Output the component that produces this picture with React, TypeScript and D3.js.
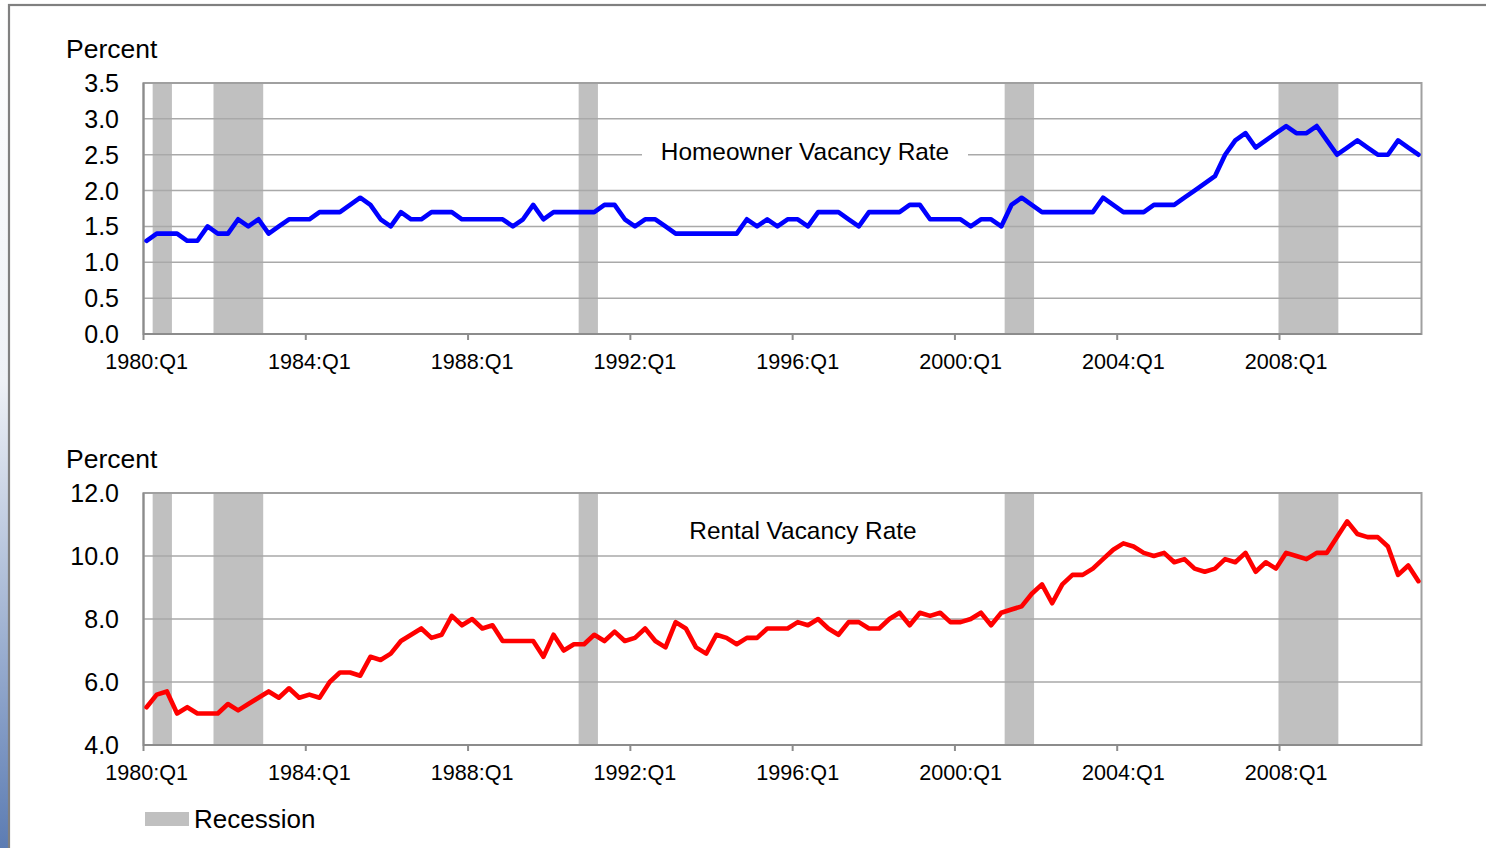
import React from "react";
import * as d3 from "d3";

// quarterly categories 1980:Q1 .. 2011:Q2
const START_YEAR = 1980;
const N_QUARTERS = 126;
const quarters = d3.range(N_QUARTERS).map(
  (i) => `${START_YEAR + Math.floor(i / 4)}:Q${(i % 4) + 1}`
);

const xTickLabels = ["1980:Q1", "1984:Q1", "1988:Q1", "1992:Q1", "1996:Q1", "2000:Q1", "2004:Q1", "2008:Q1"];

// recession quarters (first, last)
const recessions = [
  ["1980:Q2", "1980:Q3"],
  ["1981:Q4", "1982:Q4"],
  ["1990:Q4", "1991:Q1"],
  ["2001:Q2", "2001:Q4"],
  ["2008:Q1", "2009:Q2"],
];

const homeownerRate = [
  1.3, 1.4, 1.4, 1.4, 1.3, 1.3, 1.5, 1.4, 1.4, 1.6, 1.5, 1.6, 1.4, 1.5, 1.6, 1.6,
  1.6, 1.7, 1.7, 1.7, 1.8, 1.9, 1.8, 1.6, 1.5, 1.7, 1.6, 1.6, 1.7, 1.7, 1.7, 1.6,
  1.6, 1.6, 1.6, 1.6, 1.5, 1.6, 1.8, 1.6, 1.7, 1.7, 1.7, 1.7, 1.7, 1.8, 1.8, 1.6,
  1.5, 1.6, 1.6, 1.5, 1.4, 1.4, 1.4, 1.4, 1.4, 1.4, 1.4, 1.6, 1.5, 1.6, 1.5, 1.6,
  1.6, 1.5, 1.7, 1.7, 1.7, 1.6, 1.5, 1.7, 1.7, 1.7, 1.7, 1.8, 1.8, 1.6, 1.6, 1.6,
  1.6, 1.5, 1.6, 1.6, 1.5, 1.8, 1.9, 1.8, 1.7, 1.7, 1.7, 1.7, 1.7, 1.7, 1.9, 1.8,
  1.7, 1.7, 1.7, 1.8, 1.8, 1.8, 1.9, 2.0, 2.1, 2.2, 2.5, 2.7, 2.8, 2.6, 2.7, 2.8,
  2.9, 2.8, 2.8, 2.9, 2.7, 2.5, 2.6, 2.7, 2.6, 2.5, 2.5, 2.7, 2.6, 2.5,
];

const rentalRate = [
  5.2, 5.6, 5.7, 5.0, 5.2, 5.0, 5.0, 5.0, 5.3, 5.1, 5.3, 5.5, 5.7, 5.5, 5.8, 5.5,
  5.6, 5.5, 6.0, 6.3, 6.3, 6.2, 6.8, 6.7, 6.9, 7.3, 7.5, 7.7, 7.4, 7.5, 8.1, 7.8,
  8.0, 7.7, 7.8, 7.3, 7.3, 7.3, 7.3, 6.8, 7.5, 7.0, 7.2, 7.2, 7.5, 7.3, 7.6, 7.3,
  7.4, 7.7, 7.3, 7.1, 7.9, 7.7, 7.1, 6.9, 7.5, 7.4, 7.2, 7.4, 7.4, 7.7, 7.7, 7.7,
  7.9, 7.8, 8.0, 7.7, 7.5, 7.9, 7.9, 7.7, 7.7, 8.0, 8.2, 7.8, 8.2, 8.1, 8.2, 7.9,
  7.9, 8.0, 8.2, 7.8, 8.2, 8.3, 8.4, 8.8, 9.1, 8.5, 9.1, 9.4, 9.4, 9.6, 9.9, 10.2,
  10.4, 10.3, 10.1, 10.0, 10.1, 9.8, 9.9, 9.6, 9.5, 9.6, 9.9, 9.8, 10.1, 9.5, 9.8, 9.6,
  10.1, 10.0, 9.9, 10.1, 10.1, 10.6, 11.1, 10.7, 10.6, 10.6, 10.3, 9.4, 9.7, 9.2,
];

const homeownerTicks = [0, 0.5, 1, 1.5, 2, 2.5, 3, 3.5];
const rentalTicks = [4, 6, 8, 10, 12];

const FONT = "'Liberation Sans', Arial, sans-serif";
const PLOT_LEFT = 143.5;
const PLOT_RIGHT = 1421.5;

const xBand = d3.scaleBand().domain(quarters).range([PLOT_LEFT - 1, PLOT_RIGHT - 1]).padding(0);
const xPoint = d3.scalePoint().domain(quarters).range([PLOT_LEFT, PLOT_RIGHT]).padding(0.3);

const Panel = ({ top, bottom, domain, ticks, values, color, title, titleX, titleY, boxWidth, fmt }) => {
  const y = d3.scaleLinear().domain(domain).range([bottom, top]);
  const line = d3
    .line<number>()
    .x((d, i) => xPoint(quarters[i]))
    .y((d) => y(d));

  return (
    <g>
      {/* recession shading */}
      {recessions.map(([a, b]) => (
        <rect
          key={a}
          x={xBand(a)}
          y={top}
          width={xBand(b) + xBand.bandwidth() - xBand(a) - 1}
          height={bottom - top}
          fill="#c0c0c0"
        />
      ))}
      {/* gridlines */}
      {ticks.slice(1, -1).map((t) => (
        <line key={t} x1={PLOT_LEFT} x2={PLOT_RIGHT} y1={y(t)} y2={y(t)} stroke="#a9a9a9" strokeWidth={1.5} />
      ))}
      {/* plot border */}
      <rect x={PLOT_LEFT} y={top} width={PLOT_RIGHT - PLOT_LEFT} height={bottom - top} fill="none" stroke="#a0a0a0" strokeWidth={2} />
      <line x1={PLOT_LEFT} x2={PLOT_LEFT} y1={top} y2={bottom} stroke="#8c8c8c" strokeWidth={2} />
      <line x1={PLOT_LEFT} x2={PLOT_RIGHT} y1={bottom} y2={bottom} stroke="#8c8c8c" strokeWidth={2} />
      {/* title */}
      <rect x={titleX - boxWidth / 2} y={titleY - 15} width={boxWidth} height={28} fill="#ffffff" />
      <text x={titleX} y={titleY + 8} textAnchor="middle" fontSize={24.4} fontFamily={FONT} fill="#000">
        {title}
      </text>
      {/* y axis */}
      {ticks.map((t) => (
        <text key={t} x={119} y={y(t) + 9} textAnchor="end" fontSize={25} fontFamily={FONT} fill="#000">
          {fmt(t)}
        </text>
      ))}
      <text x={66} y={top - 25} fontSize={26.5} fontFamily={FONT} fill="#000">
        Percent
      </text>
      {/* x axis */}
      {xTickLabels.map((q) => (
        <g key={q}>
          <line x1={xBand(q) + 1} x2={xBand(q) + 1} y1={bottom} y2={bottom + 6} stroke="#8c8c8c" strokeWidth={2} />
          <text x={xPoint(q)} y={bottom + 35} textAnchor="middle" fontSize={21.6} fontFamily={FONT} fill="#000">
            {q}
          </text>
        </g>
      ))}
      {/* series */}
      <path d={line(values)} fill="none" stroke={color} strokeWidth={4.6} strokeLinejoin="round" strokeLinecap="round" />
    </g>
  );
};

export default function App() {
  return (
    <svg
      width={1486}
      height={848}
      style={{ position: "absolute", left: 0, top: 0, background: "#ffffff" }}
    >
      <defs>
        <linearGradient id="edge" x1="0" y1="0" x2="0" y2="1">
          <stop offset="0" stopColor="#ffffff" />
          <stop offset="0.45" stopColor="#eef1f6" />
          <stop offset="1" stopColor="#5c7cb3" />
        </linearGradient>
      </defs>
      <rect x={0} y={0} width={8} height={848} fill="url(#edge)" />
      <rect x={9} y={5} width={1490} height={860} fill="#ffffff" stroke="#808080" strokeWidth={2.2} />

      <Panel
        top={83}
        bottom={334}
        domain={[0, 3.5]}
        ticks={homeownerTicks}
        values={homeownerRate}
        color="#0000ff"
        title="Homeowner Vacancy Rate"
        titleX={805}
        titleY={152}
        boxWidth={326}
        fmt={d3.format(".1f")}
      />
      <Panel
        top={493}
        bottom={745}
        domain={[4, 12]}
        ticks={rentalTicks}
        values={rentalRate}
        color="#ff0000"
        title="Rental Vacancy Rate"
        titleX={803}
        titleY={531}
        boxWidth={252}
        fmt={d3.format(".1f")}
      />

      {/* legend */}
      <rect x={145} y={812} width={44} height={14} fill="#c0c0c0" />
      <text x={194} y={828} fontSize={26} fontFamily={FONT} fill="#000">
        Recession
      </text>
    </svg>
  );
}
